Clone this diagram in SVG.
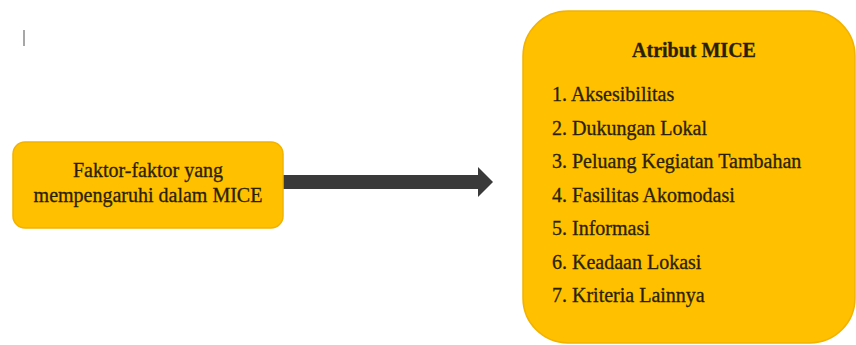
<svg xmlns="http://www.w3.org/2000/svg" width="856" height="345" viewBox="0 0 856 345">
  <style>
    .box { fill: #FFC000; stroke: #F2B200; stroke-width: 1.5; }
    .t { font-family: "Liberation Serif", "Times New Roman", serif; font-size: 20px; fill: #2a1f00; stroke: #2a1f00; stroke-width: 0.3; }
    .title { font-weight: bold; text-anchor: middle; }
    .c { text-anchor: middle; }
  </style>
  <defs>
    <marker id="head" markerUnits="userSpaceOnUse" markerWidth="16" markerHeight="30" refX="0" refY="15" orient="auto">
      <path d="M0,0 L15,15 L0,30 Z" fill="#3a3a3a"/>
    </marker>
  </defs>
  <rect x="0" y="0" width="856" height="345" fill="#ffffff"/>
  <line x1="24" y1="30" x2="24" y2="46" stroke="#8a8a8a" stroke-width="1.5"/>

  <g id="connectors">
    <line x1="283" y1="182" x2="478" y2="182" stroke="#3a3a3a" stroke-width="14" marker-end="url(#head)"/>
  </g>

  <g id="node-faktor">
    <rect class="box" x="13" y="142" width="270" height="86" rx="12" ry="12"/>
    <text class="t c" x="148" y="177">Faktor-faktor yang</text>
    <text class="t c" x="148" y="202">mempengaruhi dalam MICE</text>
  </g>

  <g id="node-atribut">
    <rect class="box" x="523" y="11" width="332" height="332" rx="45" ry="45"/>
    <text class="t title" x="694" y="57">Atribut MICE</text>
    <text class="t" x="552" y="101">1. Aksesibilitas</text>
    <text class="t" x="552" y="134.5">2. Dukungan Lokal</text>
    <text class="t" x="552" y="168">3. Peluang Kegiatan  Tambahan</text>
    <text class="t" x="552" y="201.5">4. Fasilitas Akomodasi</text>
    <text class="t" x="552" y="235">5. Informasi</text>
    <text class="t" x="552" y="268.5">6. Keadaan Lokasi</text>
    <text class="t" x="552" y="302">7. Kriteria Lainnya</text>
  </g>
</svg>
